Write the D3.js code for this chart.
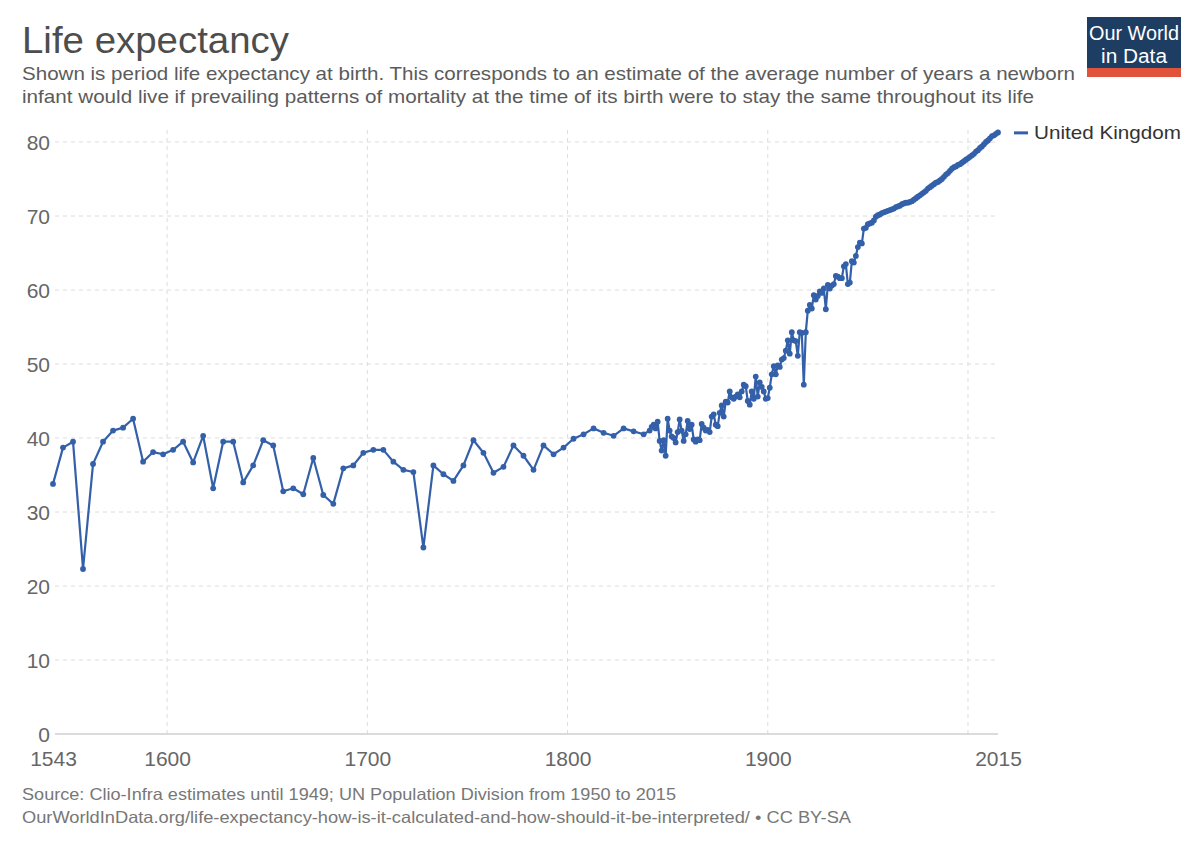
<!DOCTYPE html>
<html>
<head>
<meta charset="utf-8">
<script src="https://cdn.jsdelivr.net/npm/d3@7"></script>
<style>
  html, body { margin: 0; padding: 0; background: #fff; }
  svg { display: block; font-family: "Liberation Sans", Arial, "DejaVu Sans", sans-serif; }
</style>
</head>
<body>
<svg id="chart" width="1200" height="847"></svg>
<script>
// ---------------- DATA ----------------
const seriesName = "United Kingdom";
const titleText = "Life expectancy";
const subtitleLines = [
  "Shown is period life expectancy at birth. This corresponds to an estimate of the average number of years a newborn",
  "infant would live if prevailing patterns of mortality at the time of its birth were to stay the same throughout its life"
];
const footerLines = [
  "Source: Clio-Infra estimates until 1949; UN Population Division from 1950 to 2015",
  "OurWorldInData.org/life-expectancy-how-is-it-calculated-and-how-should-it-be-interpreted/ • CC BY-SA"
];
const yTicks = [0, 10, 20, 30, 40, 50, 60, 70, 80];
const xGridTicks = [1600, 1700, 1800, 1900, 2000];
const xLabelTicks = [1543, 1600, 1700, 1800, 1900, 2015];

// Clio-Infra, five-yearly estimates (1543–1838)
const years5 = [1543,1548,1553,1558,1563,1568,1573,1578,1583,1588,1593,1598,1603,1608,1613,1618,1623,1628,1633,1638,
  1643,1648,1653,1658,1663,1668,1673,1678,1683,1688,1693,1698,1703,1708,1713,1718,1723,1728,1733,1738,
  1743,1748,1753,1758,1763,1768,1773,1778,1783,1788,1793,1798,1803,1808,1813,1818,1823,1828,1833,1838];
const values5 = [33.8,38.7,39.5,22.3,36.5,39.5,41.0,41.4,42.6,36.8,38.1,37.8,38.4,39.5,36.7,40.3,33.2,39.5,39.5,34.0,
  36.3,39.7,39.0,32.8,33.2,32.4,37.3,32.3,31.1,35.9,36.3,38.0,38.4,38.4,36.8,35.7,35.4,25.2,36.3,35.1,
  34.2,36.3,39.7,38.0,35.3,36.1,39.0,37.6,35.7,39.0,37.8,38.7,39.9,40.5,41.3,40.7,40.3,41.3,40.9,40.5];

// Clio-Infra, annual estimates 1841–1949
const yearsAnnual = [1841,1842,1843,1844,1845,1846,1847,1848,1849,1850,1851,1852,1853,1854,1855,1856,1857,1858,1859,1860,
  1861,1862,1863,1864,1865,1866,1867,1868,1869,1870,1871,1872,1873,1874,1875,1876,1877,1878,1879,1880,
  1881,1882,1883,1884,1885,1886,1887,1888,1889,1890,1891,1892,1893,1894,1895,1896,1897,1898,1899,1900,
  1901,1902,1903,1904,1905,1906,1907,1908,1909,1910,1911,1912,1913,1914,1915,1916,1917,1918,1919,1920,
  1921,1922,1923,1924,1925,1926,1927,1928,1929,1930,1931,1932,1933,1934,1935,1936,1937,1938,1939,1940,
  1941,1942,1943,1944,1945,1946,1947,1948,1949];
const valuesAnnual = [41.0,41.5,41.8,41.3,42.2,39.6,38.3,39.7,37.6,42.6,41.0,40.2,40.0,39.4,40.8,42.5,41.0,39.6,40.5,42.3,
  41.2,41.8,39.8,39.5,39.8,39.7,41.9,41.4,41.0,41.1,40.8,42.9,43.2,41.8,41.6,43.4,44.4,42.9,44.9,44.8,
  46.3,45.5,45.3,45.6,45.9,45.5,46.3,47.2,47.0,45.0,44.5,46.3,45.3,48.3,45.6,47.5,46.9,46.3,45.3,45.4,
  46.8,48.6,49.7,48.6,49.8,49.6,50.6,50.8,51.8,53.2,51.4,54.3,53.2,53.1,51.1,54.3,54.2,47.2,54.3,57.2,
  58.0,57.5,59.3,58.7,59.2,59.8,59.6,60.2,57.4,60.7,60.2,60.6,60.8,61.9,61.8,61.6,61.6,63.2,63.5,60.8,
  61.0,63.9,63.7,64.6,65.8,66.4,66.3,68.3,68.4];

// UN Population Division, 1950–2015
const yearsUN = [1950,1951,1952,1953,1954,1955,1956,1957,1958,1959,1960,1961,1962,1963,1964,1965,1966,1967,1968,1969,
  1970,1971,1972,1973,1974,1975,1976,1977,1978,1979,1980,1981,1982,1983,1984,1985,1986,1987,1988,1989,
  1990,1991,1992,1993,1994,1995,1996,1997,1998,1999,2000,2001,2002,2003,2004,2005,2006,2007,2008,2009,
  2010,2011,2012,2013,2014,2015];
const valuesUN = [68.9,69.0,69.1,69.4,69.9,70.1,70.2,70.4,70.5,70.6,70.7,70.8,70.9,71.0,71.2,71.3,71.4,71.6,71.7,71.8,
  71.8,71.9,72.0,72.2,72.4,72.6,72.8,73.0,73.2,73.4,73.7,73.9,74.1,74.3,74.5,74.6,74.8,75.0,75.3,75.6,
  75.8,76.1,76.4,76.6,76.7,76.9,77.0,77.2,77.4,77.6,77.8,78.0,78.2,78.4,78.7,78.9,79.2,79.4,79.7,80.0,
  80.2,80.5,80.8,80.9,81.1,81.3];

// ---------------- BUILD ----------------
const data = []
  .concat(years5.map((y, i) => ({ year: y, value: values5[i] })))
  .concat(yearsAnnual.map((y, i) => ({ year: y, value: valuesAnnual[i] })))
  .concat(yearsUN.map((y, i) => ({ year: y, value: valuesUN[i] })));

const lineColor = "#3360a9";
const svg = d3.select("#chart");

function squeeze(sel, w) {
  sel.attr("textLength", w).attr("lengthAdjust", "spacingAndGlyphs");
}

// Header
const title = svg.append("text").attr("x", 22).attr("y", 53)
  .attr("font-size", 37).attr("fill", "#4d4d4d")
  .text(titleText);
squeeze(title, 267);

const subW = [1053, 1012];
subtitleLines.forEach((t, i) => {
  const s = svg.append("text").attr("x", 22).attr("y", 80 + i * 23)
    .attr("font-size", 19).attr("fill", "#5b5b5b").text(t);
  squeeze(s, subW[i]);
});

// Logo
const logo = svg.append("g");
logo.append("rect").attr("x", 1087).attr("y", 17).attr("width", 94).attr("height", 60).attr("fill", "#1d3d63");
logo.append("rect").attr("x", 1087).attr("y", 68).attr("width", 94).attr("height", 9).attr("fill", "#e0533a");
logo.append("text").attr("x", 1134).attr("y", 40).attr("text-anchor", "middle")
  .attr("font-size", 19.5).attr("fill", "#fff").attr("textLength", 90).attr("lengthAdjust", "spacingAndGlyphs")
  .text("Our World");
logo.append("text").attr("x", 1134).attr("y", 63).attr("text-anchor", "middle")
  .attr("font-size", 19.5).attr("fill", "#fff").attr("textLength", 66).attr("lengthAdjust", "spacingAndGlyphs")
  .text("in Data");

// Scales
const x = d3.scaleLinear().domain([1543, 2015]).range([53, 998]);
const y = d3.scaleLinear().domain([0, 80]).range([734, 142]);

// Horizontal grid + y labels
const yAxis = d3.axisLeft(y).tickValues(yTicks).tickSize(0).tickPadding(0);
const yg = svg.append("g").attr("transform", "translate(50,0)").call(yAxis);
yg.select(".domain").remove();
yg.selectAll("text").attr("font-size", 21).attr("fill", "#666").attr("font-family", null).attr("dy", "0.36em");

svg.append("g").selectAll("line").data(yTicks.filter(d => d > 0)).join("line")
  .attr("x1", 55).attr("x2", 998)
  .attr("y1", d => y(d)).attr("y2", d => y(d))
  .attr("stroke", "#dcdcdc").attr("stroke-width", 1).attr("stroke-dasharray", "4,4");

// Vertical grid
svg.append("g").selectAll("line").data(xGridTicks).join("line")
  .attr("x1", d => x(d)).attr("x2", d => x(d))
  .attr("y1", 130).attr("y2", 734)
  .attr("stroke", "#dcdcdc").attr("stroke-width", 1).attr("stroke-dasharray", "4,4");

// X axis
const xAxis = d3.axisBottom(x).tickValues(xLabelTicks).tickFormat(d3.format("d")).tickSize(0).tickPadding(0);
const xg = svg.append("g").attr("transform", "translate(0,734)").call(xAxis);
xg.select(".domain").remove();
xg.selectAll("text").attr("font-size", 21).attr("fill", "#666").attr("font-family", null).attr("dy", null).attr("y", 32);
svg.append("line").attr("x1", 55).attr("x2", 998).attr("y1", 734).attr("y2", 734)
  .attr("stroke", "#cfcfcf").attr("stroke-width", 1.5);

// Line + points
const line = d3.line().x(d => x(d.year)).y(d => y(d.value));
svg.append("path").datum(data).attr("d", line)
  .attr("fill", "none").attr("stroke", lineColor).attr("stroke-width", 2.2).attr("stroke-linejoin", "round");
svg.append("g").selectAll("circle").data(data).join("circle")
  .attr("cx", d => x(d.year)).attr("cy", d => y(d.value)).attr("r", 2.9).attr("fill", lineColor);

// Legend
const last = data[data.length - 1];
svg.append("line").attr("x1", 1014).attr("x2", 1028).attr("y1", y(last.value) + 0.5).attr("y2", y(last.value) + 0.5)
  .attr("stroke", lineColor).attr("stroke-width", 3);
const lg = svg.append("text").attr("x", 1034).attr("y", y(last.value) + 7)
  .attr("font-size", 19).attr("fill", "#333").text(seriesName);
squeeze(lg, 147);

// Footer
const fW = [654, 829];
footerLines.forEach((t, i) => {
  const f = svg.append("text").attr("x", 22).attr("y", 800 + i * 23)
    .attr("font-size", 16.5).attr("fill", "#777").text(t);
  squeeze(f, fW[i]);
});
</script>
</body>
</html>
